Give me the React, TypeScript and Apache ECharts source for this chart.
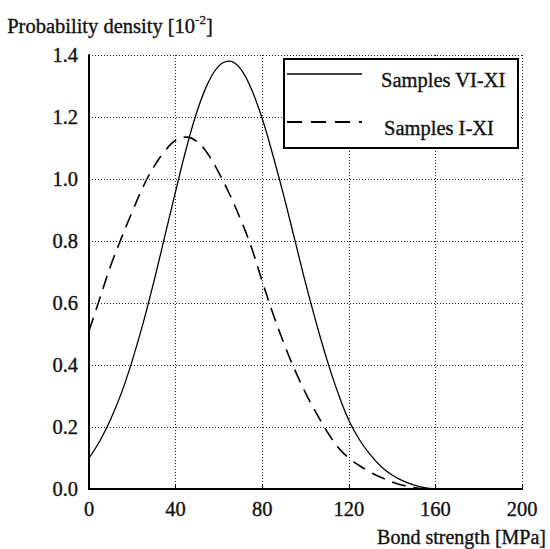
import React, { useEffect, useRef } from "react";
import * as echarts from "echarts";

const xTicks = [0, 40, 80, 120, 160, 200];
const yTicks = [0, 0.2, 0.4, 0.6, 0.8, 1.0, 1.2, 1.4];

const seriesNames = ["Samples VI-XI", "Samples I-XI"];

const strengthA = [0, 5, 10, 15, 20, 25, 30, 35, 40, 45, 50, 55, 60, 65, 70, 75, 80, 85, 90, 95, 100, 105, 110, 115, 120, 125, 130, 135, 140, 145, 150, 155, 160];
const densityA = [0.10, 0.155, 0.225, 0.31, 0.415, 0.535, 0.67, 0.815, 0.96, 1.10, 1.22, 1.31, 1.365, 1.38, 1.355, 1.29, 1.195, 1.075, 0.945, 0.805, 0.665, 0.535, 0.415, 0.31, 0.222, 0.158, 0.11, 0.072, 0.045, 0.026, 0.013, 0.004, 0];

const strengthB = [0, 5, 10, 15, 20, 25, 30, 35, 40, 45, 50, 55, 60, 65, 70, 75, 80, 85, 90, 95, 100, 105, 110, 115, 120, 125, 130, 135, 140, 145, 150, 155];
const densityB = [0.51, 0.615, 0.72, 0.81, 0.895, 0.975, 1.04, 1.09, 1.125, 1.135, 1.12, 1.08, 1.02, 0.95, 0.87, 0.78, 0.67, 0.565, 0.47, 0.385, 0.31, 0.245, 0.185, 0.135, 0.10, 0.075, 0.054, 0.037, 0.023, 0.012, 0.005, 0];

const FONT = "'Liberation Serif', 'Times New Roman', serif";
const INK = "#111";

export default function App() {
  const ref = useRef<HTMLDivElement>(null);
  useEffect(() => {
    if (!ref.current) return;
    const chart = echarts.init(ref.current, null, { renderer: "svg" });
    const dataA = strengthA.map((x, i) => [x, densityA[i]]);
    const dataB = strengthB.map((x, i) => [x, densityB[i]]);
    const gridLine = { show: true, lineStyle: { color: "#222", width: 1, type: [1, 2] as any } };
    const txt = { fontFamily: FONT, fontSize: 20.5, color: INK, textBorderColor: INK, textBorderWidth: 0.35 };
    chart.setOption({
      animation: false,
      backgroundColor: "#fff",
      grid: { left: 89, right: 28, top: 55, bottom: 60, containLabel: false },
      xAxis: {
        type: "value",
        min: xTicks[0],
        max: xTicks[xTicks.length - 1],
        interval: 40,
        axisLine: { show: true, lineStyle: { color: "#000", width: 2 } },
        axisTick: { show: true, inside: true, length: 4, lineStyle: { color: "#000" } },
        axisLabel: { ...txt, margin: 9 },
        splitLine: gridLine,
      },
      yAxis: {
        type: "value",
        min: yTicks[0],
        max: yTicks[yTicks.length - 1],
        interval: 0.2,
        axisLine: { show: true, lineStyle: { color: "#000", width: 2 } },
        axisTick: { show: false },
        axisLabel: {
          ...txt,
          margin: 11,
          formatter: (v: number) => v.toFixed(1),
        },
        splitLine: gridLine,
      },
      series: [
        {
          name: seriesNames[0],
          type: "line",
          data: dataA,
          smooth: 0.4,
          showSymbol: false,
          lineStyle: { color: "#000", width: 1.3, type: "solid" },
        },
        {
          name: seriesNames[1],
          type: "line",
          data: dataB,
          smooth: 0.4,
          showSymbol: false,
          lineStyle: { color: "#000", width: 1.6, type: [14, 8] },
        },
      ],
      graphic: [
        {
          type: "text",
          left: 7,
          top: 13,
          style: {
            text: "{a|Probability density [10}{s|-2}{a|]}",
            rich: {
              a: { fontFamily: FONT, fontSize: 20.5, fill: INK, stroke: INK, lineWidth: 0.35, lineHeight: 25 },
              s: { fontFamily: FONT, fontSize: 13, fill: INK, stroke: INK, lineWidth: 0.3, verticalAlign: "top", lineHeight: 25, padding: [0, 0, 8, 0] },
            },
          },
        },
        {
          type: "text",
          x: 546,
          y: 537,
          style: {
            text: "Bond strength [MPa]",
            fontFamily: FONT,
            fontSize: 20,
            fill: INK,
            stroke: INK,
            lineWidth: 0.35,
            textAlign: "right",
            textVerticalAlign: "middle",
          },
        },
        {
          type: "rect",
          shape: { x: 284, y: 59, width: 234, height: 89 },
          style: { fill: "#fff", stroke: "#000", lineWidth: 2 },
          z: 10,
        },
        {
          type: "line",
          shape: { x1: 287, y1: 74, x2: 362, y2: 74 },
          style: { stroke: "#000", lineWidth: 1.6 },
          z: 11,
        },
        {
          type: "text",
          x: 381,
          y: 80,
          style: { text: seriesNames[0], fontFamily: FONT, fontSize: 20.5, fill: INK, stroke: INK, lineWidth: 0.35, textVerticalAlign: "middle" },
          z: 11,
        },
        {
          type: "line",
          shape: { x1: 287, y1: 122, x2: 362, y2: 122 },
          style: { stroke: "#000", lineWidth: 1.8, lineDash: [15, 9] },
          z: 11,
        },
        {
          type: "text",
          x: 384,
          y: 128,
          style: { text: seriesNames[1], fontFamily: FONT, fontSize: 20.5, fill: INK, stroke: INK, lineWidth: 0.35, textVerticalAlign: "middle" },
          z: 11,
        },
      ],
    });
    return () => chart.dispose();
  }, []);
  return <div ref={ref} style={{ width: 550, height: 549, position: "absolute", left: 0, top: 0 }} />;
}
